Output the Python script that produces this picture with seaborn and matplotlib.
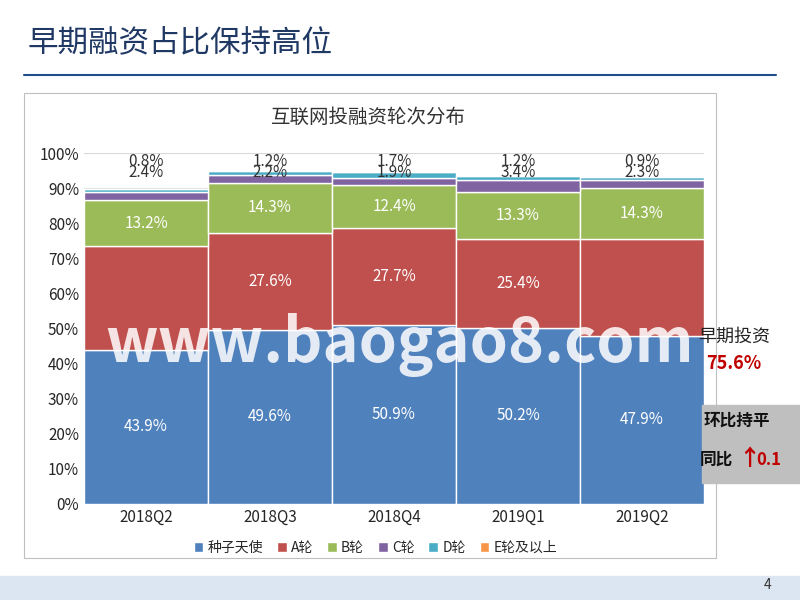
import matplotlib
matplotlib.use("Agg")
import matplotlib.pyplot as plt
import seaborn as sns
import numpy as np
import pandas as pd

quarters = ["2018Q2", "2018Q3", "2018Q4", "2019Q1", "2019Q2"]
seed = [43.9, 49.6, 50.9, 50.2, 47.9]
round_a = [29.5, 27.6, 27.7, 25.4, 27.7]
round_b = [13.2, 14.3, 12.4, 13.3, 14.3]
round_c = [2.4, 2.2, 1.9, 3.4, 2.3]
round_d = [0.8, 1.2, 1.7, 1.2, 0.9]
round_e = [0.0, 0.0, 0.0, 0.0, 0.0]
series_names = ["种子天使", "A轮", "B轮", "C轮", "D轮", "E轮及以上"]
colors = ["#4F81BD", "#C0504D", "#9BBB59", "#8064A2", "#4BACC6", "#F79646"]
a_labels = ["", "27.6%", "27.7%", "25.4%", ""]

sns.set_theme(style="white")
plt.rcParams['font.family'] = ['Noto Sans CJK SC', 'DejaVu Sans']

fig = plt.figure(figsize=(8, 6), dpi=100)
fig.patch.set_facecolor("white")
fig.text(0.035, 0.915, "早期融资占比保持高位", fontsize=22, color="#1F3864")
fig.add_artist(plt.Line2D([0.03, 0.97], [0.875, 0.875], color="#1F4E8C", lw=1.5))
fig.add_artist(plt.Rectangle((0.0, 0.0), 1, 0.04, color="#DCE6F2", zorder=0))
fig.text(0.955, 0.018, "4", fontsize=10, color="#333333")

# chart frame
fig.add_artist(plt.Rectangle((0.03, 0.07), 0.865, 0.775, fill=False, ec="#BFBFBF", lw=0.8))
fig.text(0.46, 0.795, "互联网投融资轮次分布", fontsize=14, ha="center", color="#333333")

ax = fig.add_axes([0.105, 0.16, 0.775, 0.585])
data = [seed, round_a, round_b, round_c, round_d, round_e]
bottom = np.zeros(len(quarters))
x = np.arange(len(quarters))
for vals, name, col in zip(data, series_names, colors):
    df = pd.DataFrame({"q": quarters, "v": vals})
    ax.bar(x, vals, bottom=bottom, width=1.0, color=col, label=name)
    bottom = bottom + np.array(vals)

for i in range(len(quarters)):
    ax.text(i, seed[i] / 2, f"{seed[i]:.1f}%", ha="center", va="center", color="white", fontsize=11)
    if a_labels[i]:
        ax.text(i, seed[i] + round_a[i] / 2, a_labels[i], ha="center", va="center", color="white", fontsize=11)
    ax.text(i, seed[i] + round_a[i] + round_b[i] / 2, f"{round_b[i]:.1f}%", ha="center", va="center", color="white", fontsize=11)
    ax.text(i, 97.5, f"{round_d[i]:.1f}%", ha="center", va="center", color="#333333", fontsize=11)
    ax.text(i, 94.5, f"{round_c[i]:.1f}%", ha="center", va="center", color="#333333", fontsize=11)

ax.set_xlim(-0.5, 4.5)
ax.set_ylim(0, 100)
ax.set_xticks(x)
ax.set_xticklabels(quarters, fontsize=11)
ax.set_yticks(np.arange(0, 101, 10))
ax.set_yticklabels([f"{v}%" for v in range(0, 101, 10)], fontsize=11)
ax.grid(axis="y", color="#D9D9D9", lw=0.8)
ax.set_axisbelow(True)
for s in ax.spines.values():
    s.set_visible(False)
ax.tick_params(length=0)
ax.legend(loc="upper center", bbox_to_anchor=(0.47, -0.07), ncol=6, frameon=False,
          fontsize=10, handlelength=0.7, handleheight=0.7, columnspacing=1.0, handletextpad=0.3)

fig.text(0.50, 0.425, "www.baogao8.com", fontsize=44, color="white", alpha=0.85,
         ha="center", va="center", fontweight="bold")

fig.text(0.873, 0.43, "早期投资", fontsize=13, color="#222222")
fig.text(0.883, 0.385, "75.6%", fontsize=13, color="#C00000", fontweight="bold")
fig.add_artist(plt.Rectangle((0.878, 0.195), 0.125, 0.13, color="#BFBFBF"))
fig.text(0.88, 0.29, "环比持平", fontsize=12, color="#111111", fontweight="bold")
fig.text(0.875, 0.225, "同比", fontsize=12, color="#111111", fontweight="bold")
fig.text(0.923, 0.225, "↑", fontsize=16, color="#C00000", fontweight="bold")
fig.text(0.945, 0.225, "0.1", fontsize=12, color="#C00000", fontweight="bold")

fig.savefig("out.png", dpi=100)
